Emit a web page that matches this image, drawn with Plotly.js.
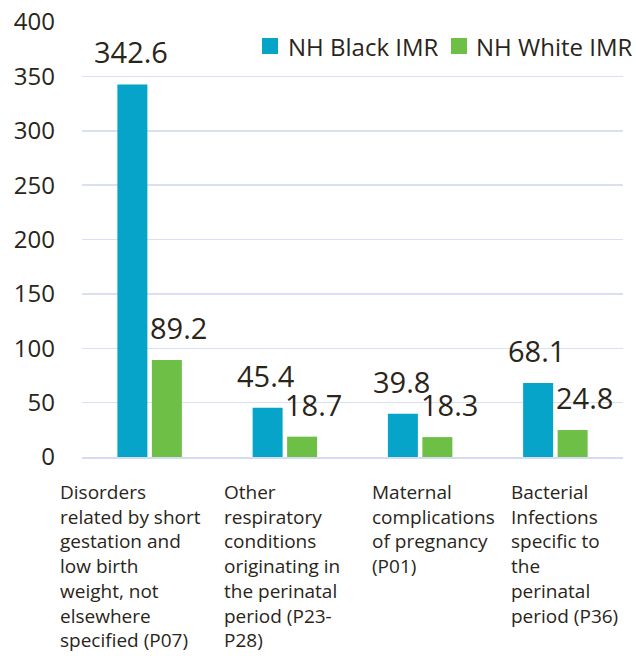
<!DOCTYPE html>
<html>
<head>
<meta charset="utf-8">
<script src="https://cdn.plot.ly/plotly-3.0.1.min.js"></script>
<style>html,body{margin:0;padding:0;background:#fff;}#chart{width:636px;height:656px;}</style>
</head>
<body>
<div id="chart"></div>
<script>
const categories = ["P07", "P23-P28", "P01", "P36"];
const categoryLabels = [
  "Disorders<br>related by short<br>gestation and<br>low birth<br>weight, not<br>elsewhere<br>specified (P07)",
  "Other<br>respiratory<br>conditions<br>originating in<br>the perinatal<br>period (P23-<br>P28)",
  "Maternal<br>complications<br>of pregnancy<br>(P01)",
  "Bacterial<br>Infections<br>specific to<br>the<br>perinatal<br>period (P36)"
];
const blackIMR = [342.6, 45.4, 39.8, 68.1];
const whiteIMR = [89.2, 18.7, 18.3, 24.8];
const seriesNames = ["NH Black IMR", "NH White IMR"];
const seriesColors = ["#05a4c8", "#6dbf46"];
const yTicks = [0, 50, 100, 150, 200, 250, 300, 350, 400];

const textColor = "#2a2519";
const font = "Open Sans, Noto Sans, sans-serif";
const labelShift = [-92, -63, -50, -46];

const W = 636, H = 656;
const M = {l: 82, r: 13, t: 22, b: 199};
const pw = W - M.l - M.r, ph = H - M.t - M.b;
const px = v => (v - M.l) / pw;
const py = v => (H - M.b - v) / ph;

const traces = [
  {type: "bar", name: seriesNames[0], x: categories, y: blackIMR,
   marker: {color: seriesColors[0]}, hoverinfo: "y", showlegend: false},
  {type: "bar", name: seriesNames[1], x: categories, y: whiteIMR,
   marker: {color: seriesColors[1]}, hoverinfo: "y", showlegend: false}
];

const annotations = [];
categories.forEach((c, i) => {
  annotations.push({xref: "x", yref: "paper", x: c, y: 0, xanchor: "left", yanchor: "top",
    xshift: labelShift[i], yshift: -20, align: "left", showarrow: false, text: categoryLabels[i],
    font: {family: font, size: 19, color: textColor}});
  annotations.push({xref: "x", yref: "y", x: c, y: blackIMR[i], xanchor: "center", yanchor: "bottom",
    xshift: -19, yshift: 11, showarrow: false, text: blackIMR[i].toFixed(1),
    font: {family: font, size: 29, color: textColor}});
  annotations.push({xref: "x", yref: "y", x: c, y: whiteIMR[i], xanchor: "center", yanchor: "bottom",
    xshift: 29, yshift: 11, showarrow: false, text: whiteIMR[i].toFixed(1),
    font: {family: font, size: 29, color: textColor}});
});

// custom legend
const legendSym = [262, 451], legendText = [286, 474], legendY = 46;
const shapes = [];
seriesNames.forEach((n, i) => {
  shapes.push({type: "rect", xref: "paper", yref: "paper",
    x0: px(legendSym[i]), x1: px(legendSym[i] + 16), y0: py(legendY + 8), y1: py(legendY - 8),
    fillcolor: seriesColors[i], line: {width: 0}});
  annotations.push({xref: "paper", yref: "paper", x: px(legendText[i]), y: py(legendY),
    xanchor: "left", yanchor: "middle", showarrow: false, text: n,
    font: {family: font, size: 24, color: textColor}});
});

const layout = {
  width: W, height: H,
  margin: M,
  paper_bgcolor: "#fff", plot_bgcolor: "#fff",
  barmode: "group", bargap: 0.49, bargroupgap: 0.13,
  showlegend: false,
  xaxis: {range: [-0.5, 3.5], autorange: false, showticklabels: false, showgrid: false, zeroline: false, showline: true,
    linecolor: "#d6dcf0", linewidth: 1.5, ticks: ""},
  yaxis: {range: [0, 400], autorange: false, tickvals: yTicks, ticktext: yTicks.map(String), showgrid: true,
    gridcolor: "#dbe0f0", gridwidth: 1.5, zeroline: false, showline: false, ticks: "",
    ticklabelstandoff: 26, tickfont: {family: font, size: 24, color: textColor}},
  shapes: shapes,
  annotations: annotations
};

Plotly.newPlot("chart", traces, layout, {displayModeBar: false, staticPlot: true});
</script>
</body>
</html>
